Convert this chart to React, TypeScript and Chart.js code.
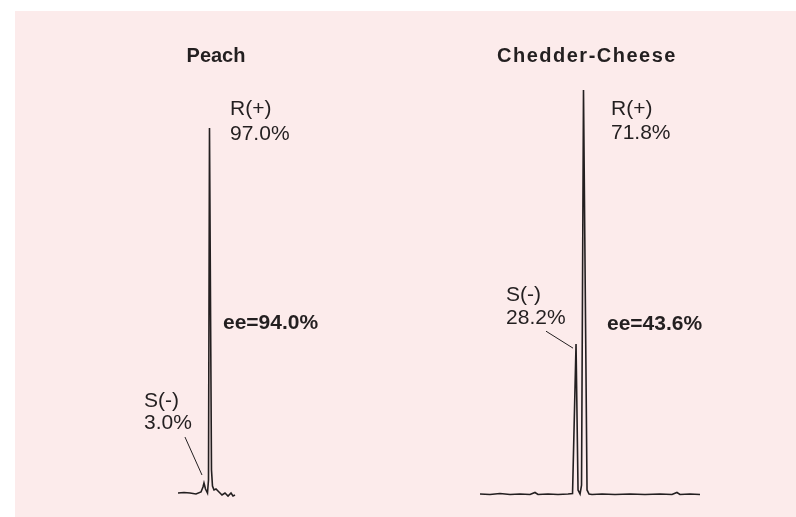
import React, { useEffect, useRef } from "react";
import { Chart, registerables } from "chart.js";

Chart.register(...registerables);

// ---- Data (retention time in min, detector signal in % of max) ----
const PEACH_TIME = [12.0, 12.126, 12.253, 12.379, 12.484, 12.526, 12.547, 12.579, 12.621, 12.642, 12.663, 12.705, 12.726, 12.758, 12.8, 12.863, 12.926, 12.989, 13.053, 13.116, 13.158, 13.2];
const PEACH_SIGNAL = [0.25, 0.37, 0.25, 0, 0.5, 1.73, 2.72, 1.24, 0.25, 3.47, 90.6, 5.94, 1.98, 0.99, 1.24, 0.5, -0.25, 0.25, -0.5, 0.25, -0.5, -0.25];

const CHEESE_TIME = [15.0, 15.209, 15.418, 15.627, 15.836, 16.045, 16.15, 16.213, 16.422, 16.631, 16.84, 16.935, 17.008, 17.05, 17.092, 17.123, 17.164, 17.238, 17.28, 17.342, 17.551, 17.823, 18.136, 18.45, 18.763, 19.014, 19.118, 19.181, 19.39, 19.6];
const CHEESE_SIGNAL = [0, -0.12, 0.12, -0.12, 0, -0.12, 0.37, -0.12, 0, -0.12, 0, 0.12, 37.1, 1.0, 0, 2.2, 100, 1.0, 0, -0.12, 0, -0.12, 0, -0.12, 0, -0.12, 0.37, -0.12, 0, -0.12];

const TITLES = ["Peach", "Chedder-Cheese"];
const R_LABELS = ["R(+)", "R(+)"];
const R_PERCENT = ["97.0%", "71.8%"];
const S_LABELS = ["S(-)", "S(-)"];
const S_PERCENT = ["3.0%", "28.2%"];
const EE_LABELS = ["ee=94.0%", "ee=43.6%"];

const INK = "#231f20";
const FONT = "'Liberation Sans', Arial, Helvetica, sans-serif";

type Ann = {
  title: { x: number; y: number; text: string; spacing: number };
  texts: { x: number; y: number; text: string; bold?: boolean }[];
  leader: { x1: number; y1: number; x2: number; y2: number };
};

const annotationPlugin = {
  id: "peakLabels",
  afterDatasetsDraw(chart: any, _args: any, opts: Ann) {
    const { ctx, scales } = chart;
    const xs = scales.x;
    const ys = scales.y;
    ctx.save();
    ctx.fillStyle = INK;
    ctx.textBaseline = "alphabetic";
    // title
    ctx.font = `bold 20px ${FONT}`;
    ctx.textAlign = "center";
    (ctx as any).letterSpacing = `${opts.title.spacing}px`;
    ctx.fillText(opts.title.text, xs.getPixelForValue(opts.title.x), ys.getPixelForValue(opts.title.y));
    (ctx as any).letterSpacing = "0px";
    // labels
    ctx.textAlign = "left";
    for (const t of opts.texts) {
      ctx.font = `${t.bold ? "bold " : ""}21px ${FONT}`;
      ctx.fillText(t.text, xs.getPixelForValue(t.x), ys.getPixelForValue(t.y));
    }
    // leader line
    ctx.strokeStyle = INK;
    ctx.lineWidth = 1;
    ctx.beginPath();
    ctx.moveTo(xs.getPixelForValue(opts.leader.x1), ys.getPixelForValue(opts.leader.y1));
    ctx.lineTo(xs.getPixelForValue(opts.leader.x2), ys.getPixelForValue(opts.leader.y2));
    ctx.stroke();
    ctx.restore();
  },
};

function Chromatogram(props: {
  times: number[];
  signal: number[];
  xMin: number;
  xMax: number;
  padding: { left: number; right: number; top: number; bottom: number };
  ann: Ann;
  style: React.CSSProperties;
}) {
  const ref = useRef<HTMLCanvasElement | null>(null);
  useEffect(() => {
    if (!ref.current) return;
    const chart = new Chart(ref.current, {
      type: "line",
      data: {
        datasets: [
          {
            data: props.times.map((t, i) => ({ x: t, y: props.signal[i] })),
            borderColor: INK,
            borderWidth: 1.6,
            pointRadius: 0,
            tension: 0,
            fill: false,
            clip: false as any,
          },
        ],
      },
      options: {
        animation: false,
        responsive: true,
        maintainAspectRatio: false,
        layout: { padding: props.padding },
        scales: {
          x: { type: "linear", min: props.xMin, max: props.xMax, display: false },
          y: { min: 0, max: 100, display: false },
        },
        plugins: {
          legend: { display: false },
          tooltip: { enabled: false },
          title: { display: false },
          peakLabels: props.ann as any,
        } as any,
      },
      plugins: [annotationPlugin],
    });
    return () => chart.destroy();
  }, []);
  return (
    <div style={props.style}>
      <canvas ref={ref} />
    </div>
  );
}

export default function App() {
  const peachAnn: Ann = {
    title: { x: 12.8, y: 106.9, text: TITLES[0], spacing: 0 },
    texts: [
      { x: 13.095, y: 93.8, text: R_LABELS[0] },
      { x: 13.095, y: 87.6, text: R_PERCENT[0] },
      { x: 12.947, y: 40.8, text: EE_LABELS[0], bold: true },
      { x: 11.284, y: 21.5, text: S_LABELS[0] },
      { x: 11.284, y: 16.1, text: S_PERCENT[0] },
    ],
    leader: { x1: 12.147, y1: 14.1, x2: 12.505, y2: 4.7 },
  };
  const cheeseAnn: Ann = {
    title: { x: 17.237, y: 106.9, text: TITLES[1], spacing: 1.5 },
    texts: [
      { x: 17.739, y: 93.8, text: R_LABELS[1] },
      { x: 17.739, y: 87.9, text: R_PERCENT[1] },
      { x: 17.655, y: 40.6, text: EE_LABELS[1], bold: true },
      { x: 15.544, y: 47.8, text: S_LABELS[1] },
      { x: 15.544, y: 42.1, text: S_PERCENT[1] },
    ],
    leader: { x1: 16.38, y1: 40.3, x2: 16.945, y2: 36.1 },
  };
  return (
    <div style={{ position: "absolute", left: 0, top: 0, width: 796, height: 517, background: "#ffffff" }}>
      <div style={{ position: "absolute", left: 15, top: 11, width: 781, height: 506, background: "#fcebeb" }} />
      <Chromatogram
        times={PEACH_TIME}
        signal={PEACH_SIGNAL}
        xMin={12.0}
        xMax={13.2}
        padding={{ left: 163, right: 165, top: 79, bottom: 23 }}
        ann={peachAnn}
        style={{ position: "absolute", left: 15, top: 11, width: 385, height: 506 }}
      />
      <Chromatogram
        times={CHEESE_TIME}
        signal={CHEESE_SIGNAL}
        xMin={15.0}
        xMax={19.6}
        padding={{ left: 80, right: 96, top: 79, bottom: 23 }}
        ann={cheeseAnn}
        style={{ position: "absolute", left: 400, top: 11, width: 396, height: 506 }}
      />
    </div>
  );
}
